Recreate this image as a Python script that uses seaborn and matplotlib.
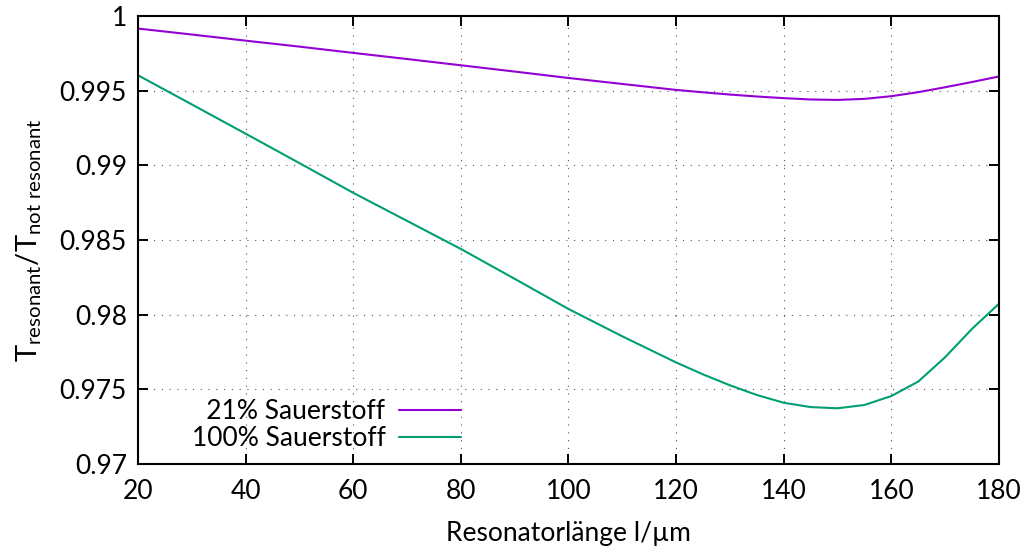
import numpy as np
import pandas as pd
import matplotlib
matplotlib.use("Agg")
import matplotlib.pyplot as plt
import seaborn as sns

# ---- data ----
x_um = [20, 30, 40, 50, 60, 70, 80, 90, 100, 110, 120, 125, 130, 135, 140, 145,
        150, 155, 160, 165, 170, 175, 180]
t_21 = [0.99916, 0.99876, 0.99835, 0.99795, 0.99753, 0.99712, 0.99670, 0.99628,
        0.99585, 0.99545, 0.99505, 0.99489, 0.99474, 0.99461, 0.99450, 0.99441,
        0.99438, 0.99445, 0.99463, 0.99490, 0.99523, 0.99558, 0.99595]
t_100 = [0.99603, 0.99408, 0.99212, 0.99015, 0.98816, 0.98628, 0.98440, 0.98240,
         0.98038, 0.97855, 0.97680, 0.97600, 0.97527, 0.97462, 0.97410, 0.97381,
         0.97373, 0.97395, 0.97455, 0.97552, 0.97715, 0.97905, 0.98073]
series_names = ["21% Sauerstoff", "100% Sauerstoff"]
series_colors = ["#9400d3", "#009e73"]
x_ticks = [20, 40, 60, 80, 100, 120, 140, 160, 180]
y_ticks = [0.97, 0.975, 0.98, 0.985, 0.99, 0.995, 1.0]
y_tick_labels = ["0.97", "0.975", "0.98", "0.985", "0.99", "0.995", "1"]

df = pd.concat([
    pd.DataFrame({"l": x_um, "T": t_21, "series": series_names[0]}),
    pd.DataFrame({"l": x_um, "T": t_100, "series": series_names[1]}),
], ignore_index=True)

sns.set_theme(style="white")
plt.rcParams["font.family"] = ["Lato", "DejaVu Sans"]
plt.rcParams["mathtext.fontset"] = "custom"
plt.rcParams["mathtext.rm"] = "Lato"
plt.rcParams["mathtext.it"] = "Lato:italic"
plt.rcParams["text.color"] = "black"
plt.rcParams["axes.labelcolor"] = "black"

fig = plt.figure(figsize=(10.29, 5.54), dpi=100)
ax = fig.add_axes([0.1341, 0.1625, 0.9708 - 0.1341, 0.9711 - 0.1625])

sns.lineplot(data=df, x="l", y="T", hue="series", hue_order=series_names,
             palette=series_colors, linewidth=1.5, ax=ax, legend=False,
             sort=True)

ax.set_xlim(20, 180)
ax.set_ylim(0.97, 1.0)
ax.set_xticks(x_ticks)
ax.set_xticklabels([str(v) for v in x_ticks])
ax.set_yticks(y_ticks)
ax.set_yticklabels(y_tick_labels)

ax.grid(True, color="#555555", linestyle=(0, (1, 6)), linewidth=0.8)
for s in ax.spines.values():
    s.set_visible(True)
    s.set_color("black")
    s.set_linewidth(1.5)

ax.tick_params(axis="both", which="major", direction="in", length=7, width=1.4,
               top=True, right=True, bottom=True, left=True,
               labelsize=19, colors="black")
ax.tick_params(axis="x", pad=11)
ax.tick_params(axis="y", pad=8)

ax.set_xlabel("Resonatorlänge l/µm", fontsize=19, labelpad=12, color="black")
ax.set_ylabel(r"$\mathregular{T_{resonant}/T_{not\ resonant}}$", fontsize=21,
              labelpad=11, color="black")

handles = [plt.Line2D([], [], color=c, lw=1.5) for c in series_colors]
labels = ["\u2007" + series_names[0], series_names[1]]
leg = ax.legend(handles, labels, loc="lower right",
                bbox_to_anchor=(0.387, 0.005), frameon=False, fontsize=19,
                markerfirst=False, handlelength=2.35, handletextpad=0.5,
                labelspacing=0.08, borderaxespad=0.0, labelcolor="black")

fig.savefig("out.png", dpi=100)
